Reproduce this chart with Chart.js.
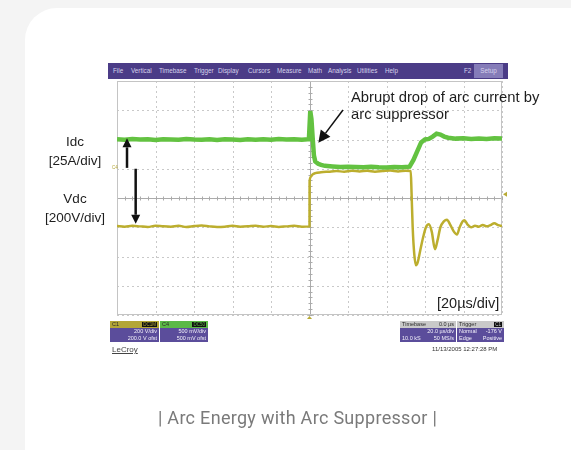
<!DOCTYPE html>
<html>
<head>
<meta charset="utf-8">
<script src="https://cdn.jsdelivr.net/npm/chart.js@4.4.0/dist/chart.umd.min.js"></script>
<style>
    html, body { margin: 0; padding: 0; }
    body { width: 571px; height: 450px; background: #f4f4f4; position: relative; overflow: hidden; font-family: 'Liberation Sans', Arial, sans-serif; }
    #card { position: absolute; left: 25px; top: 8px; width: 600px; height: 500px; background: #fff; border-radius: 32px 0 0 0; }
    #scope { position: absolute; left: 0; top: 0; }
    .menu { position: absolute; left: 108px; top: 63px; width: 400px; height: 16px; background: #4b3c87; }
    .menu span { position: absolute; top: 5px; font-size: 6.3px; line-height: 6px; color: #d6d2ec; white-space: nowrap; }
    .menu .setup { top: 1px; left: 366px; width: 29px; height: 14px; background: #857cb8; line-height: 14px; text-align: center; }
    .lbl { position: absolute; font-size: 13.5px; color: #1e1e1e; white-space: nowrap; transform: translate(-50%, -50%); }
    .note { position: absolute; font-size: 14.8px; color: #1e1e1e; white-space: nowrap; }
    .box { position: absolute; top: 321px; height: 21px; background: #5b4d9b; color: #f2f0fa; font-size: 5.5px; }
    .box .hd { height: 7px; line-height: 7px; padding: 0 2px; color: #2a2a2a; display: flex; justify-content: space-between; }
    .box .row { height: 7px; line-height: 7px; padding: 0 2px; display: flex; justify-content: space-between; }
    .badge { background: #111; padding: 0 1px; height: 5px; line-height: 5px; margin-top: 1px; font-size: 4.5px; }
    .caption { position: absolute; left: 0; width: 595px; top: 407px; text-align: center; font-family: Roboto, sans-serif; font-size: 18px; letter-spacing: 0.3px; color: #7a7a7a; }
</style>
</head>
<body>
<div id="card"></div>
<canvas id="scope" width="571" height="450"></canvas>

<div class="menu">
    <span style="left:5px">File</span>
    <span style="left:23px">Vertical</span>
    <span style="left:51px">Timebase</span>
    <span style="left:86px">Trigger</span>
    <span style="left:110px">Display</span>
    <span style="left:140px">Cursors</span>
    <span style="left:169px">Measure</span>
    <span style="left:200px">Math</span>
    <span style="left:220px">Analysis</span>
    <span style="left:249px">Utilities</span>
    <span style="left:277px">Help</span>
    <span style="left:356px">F2</span>
    <span class="setup">Setup</span>
</div>

<div class="lbl" style="left:75px;top:141px">Idc</div>
<div class="lbl" style="left:75px;top:160px">[25A/div]</div>
<div class="lbl" style="left:75px;top:198px">Vdc</div>
<div class="lbl" style="left:75px;top:217px">[200V/div]</div>
<div class="note" style="left:351px;top:89px">Abrupt drop of arc current by</div>
<div class="note" style="left:351px;top:106px">arc suppressor</div>
<div class="note" style="left:437px;top:295px;font-size:14.5px">[20µs/div]</div>
<div class="note" style="left:112px;top:165px;font-size:4.5px;color:#b3a636">C4</div>

<div class="box" style="left:110px;width:49px">
    <div class="hd" style="background:#b3a636"><span>C1</span><span class="badge" style="color:#b3a636">DC1M</span></div>
    <div class="row"><span></span><span>200 V/div</span></div>
    <div class="row"><span></span><span>200.0 V ofst</span></div>
</div>
<div class="box" style="left:160px;width:48px">
    <div class="hd" style="background:#5bb947"><span>C4</span><span class="badge" style="color:#5bb947">DC50</span></div>
    <div class="row"><span></span><span>500 mV/div</span></div>
    <div class="row"><span></span><span>500 mV ofst</span></div>
</div>
<div class="box" style="left:400px;width:56px">
    <div class="hd" style="background:#c9c9c9"><span>Timebase</span><span>0.0 µs</span></div>
    <div class="row"><span></span><span>20.0 µs/div</span></div>
    <div class="row"><span>10.0 kS</span><span>50 MS/s</span></div>
</div>
<div class="box" style="left:457px;width:47px">
    <div class="hd" style="background:#c9c9c9"><span>Trigger</span><span class="badge" style="color:#c9c9c9">C1</span></div>
    <div class="row"><span>Normal</span><span>-176 V</span></div>
    <div class="row"><span>Edge</span><span>Positive</span></div>
</div>
<div class="note" style="left:112px;top:345px;font-size:8px;color:#444;text-decoration:underline">LeCroy</div>
<div class="note" style="left:432px;top:346px;font-size:6px;color:#333">11/13/2005 12:27:28 PM</div>

<div class="caption">| Arc Energy with Arc Suppressor |</div>

<script>
// time in µs (20 µs/div, trigger at centre), values in screen divisions
const idcTimes = [-100, -96, -92, -88, -84, -80, -76, -72, -68, -64, -60, -56, -52, -48, -44, -40, -36, -32, -28, -24, -20, -16, -12, -8, -4, -0.3,
    0.4, 1.0, 1.6, 2.3, 3.0, 4.5, 6, 8, 12, 16, 20, 24, 28, 32, 36, 40, 44, 48, 52,
    54, 56, 58, 60, 62, 64, 66, 68, 70, 72, 76, 80, 84, 88, 92, 96, 100];
const idcDivs = [2.01, 1.99, 2.02, 2.0, 2.01, 1.98, 2.01, 2.0, 1.99, 2.02, 2.0, 1.99, 2.01, 1.98, 2.01, 2.0, 1.98, 2.01, 1.99, 2.01, 1.99, 2.02, 2.0, 2.01, 1.99, 2.01,
    2.97, 2.7, 2.1, 1.45, 1.25, 1.17, 1.13, 1.1, 1.08, 1.06, 1.07, 1.06, 1.05, 1.07, 1.05, 1.04, 1.06, 1.05, 1.07,
    1.3, 1.6, 1.9, 2.0, 2.02, 2.1, 2.2, 2.17, 2.1, 2.06, 2.03, 2.04, 2.02, 2.03, 2.02, 2.04, 2.03];

const vdcTimes = [-100, -96, -92, -88, -84, -80, -76, -72, -68, -64, -60, -56, -52, -48, -44, -40, -36, -32, -28, -24, -20, -16, -12, -8, -4, 0,
    0.05, 0.6, 1.5, 3, 6, 10, 14, 18, 22, 26, 30, 34, 38, 42, 46, 50, 52.6,
    53.0, 53.6, 54.4, 55.3, 56.2, 57.5, 59, 60.5, 62, 63.5, 65.2, 66.5, 68, 69.8, 71.4, 73, 75, 76.6, 78, 79.5, 80.5,
    82, 84, 86, 88, 90, 92, 94, 96, 98, 100];
const vdcDivs = [-0.96, -0.98, -0.95, -0.97, -0.99, -0.95, -0.97, -0.98, -0.95, -0.99, -0.96, -0.94, -0.97, -0.99, -0.98, -0.95, -0.98, -0.97, -0.95, -0.98, -0.96, -0.99, -0.97, -0.95, -0.98, -0.97,
    0.55, 0.72, 0.8, 0.85, 0.88, 0.9, 0.92, 0.9, 0.93, 0.91, 0.93, 0.9, 0.92, 0.94, 0.91, 0.93, 0.92,
    0.2, -1.0, -1.9, -2.3, -2.2, -1.8, -1.35, -1.0, -0.9, -1.15, -1.75, -1.45, -1.0, -0.8, -0.74, -0.9, -1.15, -1.25, -1.0, -0.8, -0.76,
    -0.9, -1.0, -0.95, -0.98, -0.92, -0.97, -0.93, -0.86, -0.93, -0.96];

// annotation arrows [time, div] tail -> tip
const arrowTails = [[-94.8, 1.03], [-90.3, 1.0], [17.4, 3.01]];
const arrowTips = [[-94.8, 2.04], [-90.3, -0.88], [4.6, 1.89]];
const trigLevelDiv = 0.13;

(function() {

    "use strict";

    function toPoints(times, vals) {
        return times.map(function(t, i) { return { x: t, y: vals[i] }; });
    }

    function drawArrow(ctx, x1, y1, x2, y2, width, headLen, headHalf) {
        let ang = Math.atan2(y2 - y1, x2 - x1),
            bx = x2 - headLen * Math.cos(ang),
            by = y2 - headLen * Math.sin(ang);
        ctx.lineWidth = width;
        ctx.beginPath();
        ctx.moveTo(x1, y1);
        ctx.lineTo(bx, by);
        ctx.stroke();
        ctx.beginPath();
        ctx.moveTo(x2, y2);
        ctx.lineTo(bx + headHalf * Math.sin(ang), by - headHalf * Math.cos(ang));
        ctx.lineTo(bx - headHalf * Math.sin(ang), by + headHalf * Math.cos(ang));
        ctx.closePath();
        ctx.fill();
    }

    const scopePlugin = {
        id: 'scope',
        beforeDatasetsDraw: function(chart) {
            const ctx = chart.ctx, a = chart.chartArea,
                x = chart.scales.x, y = chart.scales.y;
            let cx = Math.round(x.getPixelForValue(0)) + 0.5,
                cy = Math.round(y.getPixelForValue(0)) + 0.5;
            ctx.save();
            // dotted graticule from the scale ticks
            ctx.strokeStyle = '#c9c9c9';
            ctx.lineWidth = 1;
            ctx.setLineDash([2, 3]);
            ctx.beginPath();
            x.ticks.forEach(function(tick) {
                let px = Math.round(x.getPixelForValue(tick.value)) + 0.5;
                ctx.moveTo(px, a.top); ctx.lineTo(px, a.bottom);
            });
            y.ticks.forEach(function(tick) {
                let py = Math.round(y.getPixelForValue(tick.value)) + 0.5;
                ctx.moveTo(a.left, py); ctx.lineTo(a.right, py);
            });
            ctx.stroke();
            ctx.setLineDash([]);
            // centre cross with minor ticks
            ctx.strokeStyle = '#ababab';
            ctx.beginPath();
            ctx.moveTo(a.left, cy); ctx.lineTo(a.right, cy);
            ctx.moveTo(cx, a.top); ctx.lineTo(cx, a.bottom);
            for (let t = -100; t <= 100; t += 4) {
                let px = Math.round(x.getPixelForValue(t)) + 0.5;
                ctx.moveTo(px, cy - 2); ctx.lineTo(px, cy + 2);
            }
            for (let v = -4; v <= 4.001; v += 0.2) {
                let py = Math.round(y.getPixelForValue(v)) + 0.5;
                ctx.moveTo(cx - 2, py); ctx.lineTo(cx + 2, py);
            }
            ctx.stroke();
            ctx.strokeStyle = '#c4c4c4';
            ctx.strokeRect(a.left + 0.5, a.top + 0.5, a.right - a.left - 1, a.bottom - a.top - 1);
            ctx.restore();
        },
        afterDatasetsDraw: function(chart) {
            const ctx = chart.ctx, a = chart.chartArea,
                x = chart.scales.x, y = chart.scales.y;
            ctx.save();
            ctx.strokeStyle = '#111';
            ctx.fillStyle = '#111';
            arrowTails.forEach(function(tail, i) {
                let tip = arrowTips[i],
                    big = i < 2;
                drawArrow(ctx, x.getPixelForValue(tail[0]), y.getPixelForValue(tail[1]),
                    x.getPixelForValue(tip[0]), y.getPixelForValue(tip[1]),
                    big ? 2.5 : 1.5, big ? 9 : 12, big ? 4.5 : 6);
            });
            // trigger markers
            ctx.fillStyle = '#b8aa34';
            let ty = y.getPixelForValue(trigLevelDiv),
                tx = x.getPixelForValue(0);
            ctx.beginPath();
            ctx.moveTo(a.right + 1, ty);
            ctx.lineTo(a.right + 5, ty - 2.5);
            ctx.lineTo(a.right + 5, ty + 2.5);
            ctx.fill();
            ctx.beginPath();
            ctx.moveTo(tx, a.bottom + 1);
            ctx.lineTo(tx - 2.5, a.bottom + 4);
            ctx.lineTo(tx + 2.5, a.bottom + 4);
            ctx.fill();
            ctx.restore();
        }
    };

    let scopeCanvas = document.getElementById('scope');
    window.Chart && new Chart(scopeCanvas, {
        type: 'line',
        data: {
            datasets: [{
                label: 'Idc',
                data: toPoints(idcTimes, idcDivs),
                borderColor: '#63c241',
                borderWidth: 4.5,
                pointRadius: 0,
                tension: 0,
            }, {
                label: 'Vdc',
                data: toPoints(vdcTimes, vdcDivs),
                borderColor: '#bcae2e',
                borderWidth: 2.5,
                pointRadius: 0,
                cubicInterpolationMode: 'monotone',
            }]
        },
        options: {
            responsive: false,
            animation: false,
            layout: {
                padding: { left: 117, right: 69, top: 81, bottom: 135 }
            },
            plugins: {
                legend: { display: false },
                tooltip: { enabled: false }
            },
            scales: {
                x: {
                    type: 'linear',
                    min: -100,
                    max: 100,
                    ticks: { display: false, stepSize: 20 },
                    grid: { display: false, drawTicks: false },
                    border: { display: false }
                },
                y: {
                    min: -4,
                    max: 4,
                    ticks: { display: false, stepSize: 1 },
                    grid: { display: false, drawTicks: false },
                    border: { display: false }
                }
            }
        },
        plugins: [scopePlugin]
    });
})();
</script>
</body>
</html>
